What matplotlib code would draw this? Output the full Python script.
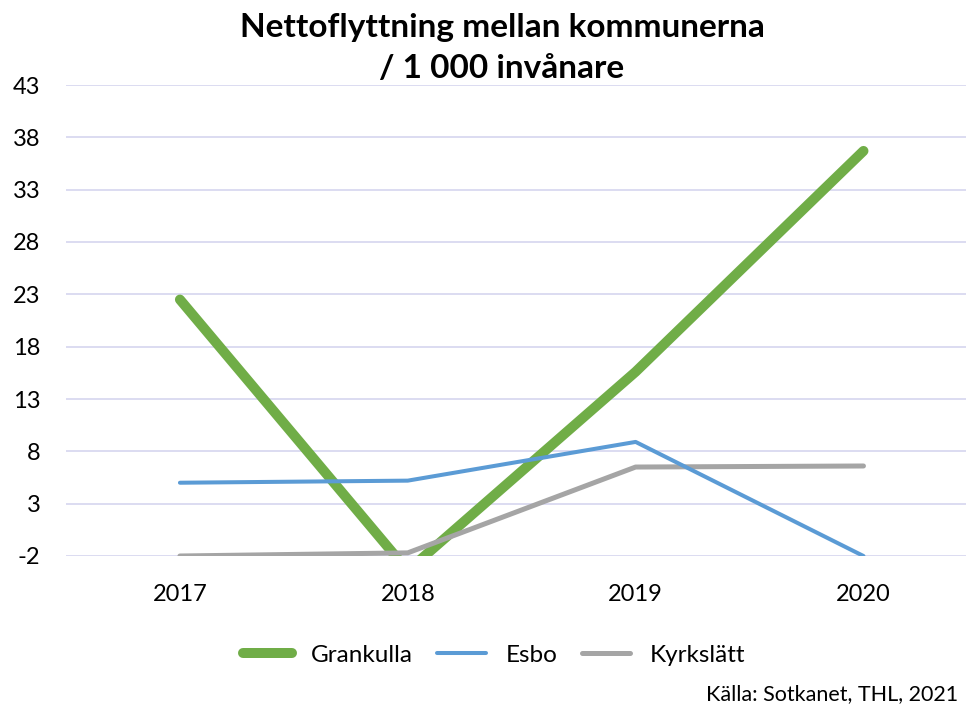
import matplotlib
matplotlib.use("Agg")
import matplotlib.pyplot as plt

plt.rcParams['font.family'] = ['Lato', 'DejaVu Sans']

years = ["2017", "2018", "2019", "2020"]
grankulla = [22.5, -3.4, 15.6, 36.7]
esbo = [5.0, 5.2, 8.9, -2.0]
kyrkslatt = [-2.0, -1.7, 6.5, 6.6]
yticks = [-2, 3, 8, 13, 18, 23, 28, 33, 38, 43]

fig = plt.figure(figsize=(9.66, 7.08), dpi=100)
ax = fig.add_axes([66/966, 1-556/708, 900/966, 471/708])

x = list(range(len(years)))
ax.plot(x, grankulla, color='#70AD47', lw=7.2, solid_capstyle='round', solid_joinstyle='round', label='Grankulla', zorder=3)
ax.plot(x, esbo, color='#5B9BD5', lw=2.9, solid_capstyle='round', solid_joinstyle='round', label='Esbo', zorder=4)
ax.plot(x, kyrkslatt, color='#A5A5A5', lw=3.6, solid_capstyle='round', solid_joinstyle='round', label='Kyrkslätt', zorder=3)

ax.set_ylim(-2, 43)
ax.set_xlim(-0.5, 3.45)
ax.set_yticks(yticks)
ax.set_yticklabels([str(v) for v in yticks])
ax.set_xticks(x)
ax.set_xticklabels(years)
ax.tick_params(axis='both', length=0, labelsize=17, colors='black')
ax.tick_params(axis='y', pad=18.5)
ax.tick_params(axis='x', pad=20)
ax.grid(axis='y', color='#D9D9F0', lw=1.3)
ax.set_axisbelow(True)
for s in ax.spines.values():
    s.set_visible(False)

fig.text(502/966, 1-48/708, "Nettoflyttning mellan kommunerna\n/ 1 000 invånare",
         ha='center', va='center', fontsize=24, fontweight='bold', linespacing=1.5)

leg = fig.legend(loc='center', bbox_to_anchor=(494/966, 1-655/708), ncol=3, frameon=False,
                 fontsize=17.5, handlelength=2.0, columnspacing=1.0, handletextpad=0.8)

fig.text(958/966, 1-694/708, "Källa: Sotkanet, THL, 2021", ha='right', va='center', fontsize=15.5)

fig.savefig("out.png", dpi=100)
